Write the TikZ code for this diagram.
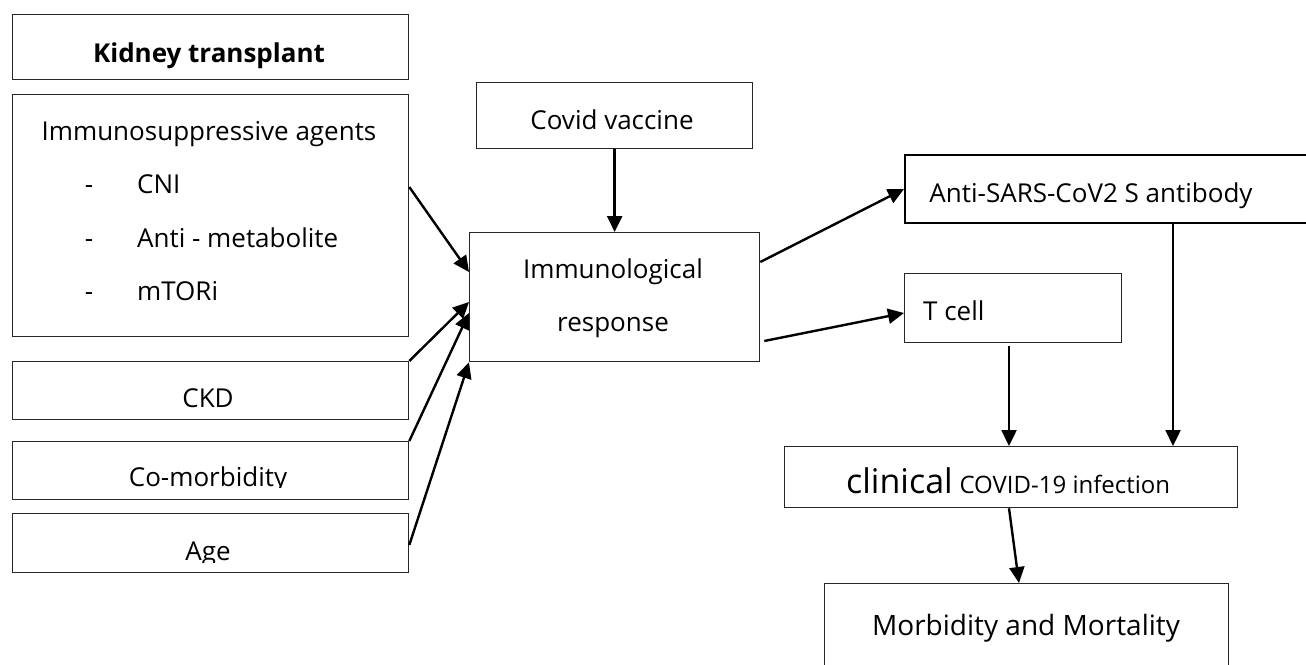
\documentclass[tikz,border=0pt]{standalone}
\usepackage{fontspec}
\setmainfont{Open Sans}
\usetikzlibrary{arrows.meta,positioning,calc}
\tikzset{
    box/.style={rectangle,draw=black!85,line width=1.3pt,inner sep=0pt,anchor=north west},
    strong box/.style={box,draw=black,line width=2pt},
    arr/.style={-{Triangle[length=16pt,width=15pt]},line width=2.4pt},
    txt/.style={inner sep=0pt,anchor=base,font=\fontsize{26}{30}\selectfont},
    big txt/.style={txt,font=\fontsize{28}{34}\selectfont},
}

\begin{document}
\begin{tikzpicture}[x=1pt,y=-1pt]
    \useasboundingbox (0,0) rectangle (1306,664);
    \clip (0,0) rectangle (1306,664);

    % left column
    \node[box,minimum width=396pt,minimum height=65pt] (kidney) at (12,14) {};
    \node[box,minimum width=396pt,minimum height=242pt] (immuno) at (12,94) {};
    \node[box,minimum width=396pt,minimum height=58pt] (ckd) at (12,361) {};
    \node[box,minimum width=396pt,minimum height=58pt] (comorb) at (12,441) {};
    \node[box,minimum width=396pt,minimum height=59pt] (age) at (12,513) {};

    \node[txt,font=\fontsize{26}{30}\bfseries] (kidney text) at (209,62) {Kidney transplant};
    \node[txt] (immuno text) at (209,140) {Immunosuppressive agents};
    \foreach \item/\y [count=\i] in {CNI/193,Anti - metabolite/247,mTORi/300}{
        \node[txt] (dash\i) at (89,\y) {-};
        \node[txt,anchor=base west] (drug\i) at (137,\y) {\item};
    }
    \node[txt] (ckd text) at (208,407) {CKD};
    % the text frames cut off the descenders
    \begin{scope}
        \clip (12,441) rectangle (408,487);
        \node[txt] (comorb text) at (208,486) {Co-morbidity};
    \end{scope}
    \begin{scope}
        \clip (12,513) rectangle (408,562);
        \node[txt] (age text) at (208,560) {Age};
    \end{scope}

    % middle
    \node[box,minimum width=276pt,minimum height=66pt] (vaccine) at (476,82) {};
    \node[box,minimum width=290pt,minimum height=129pt] (resp) at (469,232) {};
    \node[txt] (vaccine text) at (612,129) {Covid vaccine};
    \node[txt] (resp text1) at (613,278) {Immunological};
    \node[txt] (resp text2) at (613,331) {response};

    % right
    \node[strong box,minimum width=406pt,minimum height=68pt] (antib) at (904,154) {};
    \node[box,minimum width=217pt,minimum height=69pt] (tcell) at (904,273) {};
    \node[box,minimum width=453pt,minimum height=61pt] (clin) at (784,446) {};
    \node[box,minimum width=404pt,minimum height=90pt] (morb) at (824,583) {};
    \node[txt] (antib text) at (1091,202) {Anti-SARS-CoV2 S antibody};
    \node[txt,anchor=base west] (tcell text) at (923,320) {T cell};
    \node[txt,anchor=base west] (clin text) at (846,493) {{\fontsize{34}{40}\selectfont clinical} {\fontsize{24}{28}\selectfont COVID-19 infection}};
    \node[big txt] (morb text) at (1026,635) {Morbidity and Mortality};

    % connectors
    \draw[arr] ($(immuno.north east)+(0,93)$) -- ($(resp.north west)+(0,40)$);
    \draw[arr] (ckd.north east) -- ($(resp.north west)+(0,70)$);
    \draw[arr] (comorb.north east) -- ($(resp.north west)+(0,81)$);
    \draw[arr] ($(age.north east)+(0,32)$) -- (resp.south west);
    \draw[arr] (vaccine.south) -- (resp.north);
    \draw[arr] ($(resp.north east)+(0,30)$) -- (antib.west);
    \draw[arr] ($(resp.north east)+(4,109)$) -- ($(tcell.north west)+(0,40)$);
    \draw[arr] ($(tcell.south west)+(105,3)$) coordinate (t1) -- (t1 |- clin.north);
    \draw[arr] ($(antib.south west)+(269,0)$) coordinate (a1) -- (a1 |- clin.north);
    \draw[arr] ($(clin.south west)+(225,0)$) -- ($(morb.north west)+(195,0)$);
\end{tikzpicture}
\end{document}
